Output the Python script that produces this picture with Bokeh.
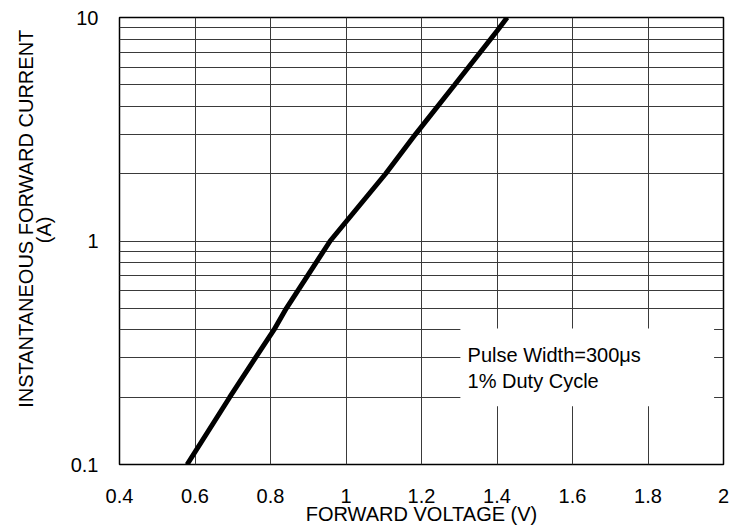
from bokeh.plotting import figure
from bokeh.models import FixedTicker, BoxAnnotation, Label
from bokeh.embed import file_html
from bokeh.resources import INLINE

# Data
voltage = [0.579, 0.692, 0.760, 0.809, 0.842, 0.958, 1.105, 1.184, 1.288, 1.400, 1.427]
current = [0.1, 0.2, 0.3, 0.4, 0.5, 1.0, 2.0, 3.0, 5.0, 8.7, 10.0]

x_ticks = [0.4, 0.6, 0.8, 1.0, 1.2, 1.4, 1.6, 1.8, 2.0]
x_tick_labels = ["0.4", "0.6", "0.8", "1", "1.2", "1.4", "1.6", "1.8", "2"]
y_ticks = [0.1, 1.0, 10.0]
y_tick_labels = ["0.1", "1", "10"]
y_minor_ticks = [0.2, 0.3, 0.4, 0.5, 0.6, 0.7, 0.8, 0.9, 2, 3, 4, 5, 6, 7, 8, 9]

y_title = "INSTANTANEOUS FORWARD CURRENT"
y_unit = "(A)"
note_lines = ["Pulse Width=300\u03bcs", "1% Duty Cycle"]

FONT = "Liberation Sans"
FS = "20px"
NB = "\u00a0"

p = figure(frame_width=604, frame_height=447, x_range=(0.4, 2.0), y_range=(0.1, 10),
           y_axis_type="log", output_backend="svg", toolbar_location=None,
           min_border_left=119, min_border_right=14, min_border_top=17,
           min_border_bottom=62)

p.outline_line_color = "black"
p.outline_line_width = 1.5
p.background_fill_color = "white"
p.border_fill_color = "white"

# x axis
p.xaxis.ticker = FixedTicker(ticks=x_ticks)
p.xaxis.major_label_overrides = {t: l for t, l in zip(x_ticks, x_tick_labels)}
p.xaxis.axis_label = "FORWARD VOLTAGE (V)"
# y axis
p.yaxis.ticker = FixedTicker(ticks=y_ticks, minor_ticks=y_minor_ticks)
p.yaxis.major_label_overrides = {t: l for t, l in zip(y_ticks, y_tick_labels)}
p.yaxis.axis_label = NB * 8 + y_title + "\n" + NB * 4 + y_unit

for ax in (p.xaxis[0], p.yaxis[0]):
    ax.axis_line_color = None
    ax.major_tick_line_color = None
    ax.minor_tick_line_color = None
    ax.major_tick_out = 0
    ax.minor_tick_out = 0
    ax.major_label_text_font = FONT
    ax.major_label_text_font_size = FS
    ax.major_label_text_color = "black"
    ax.axis_label_text_font = FONT
    ax.axis_label_text_font_size = FS
    ax.axis_label_text_font_style = "normal"
    ax.axis_label_text_color = "black"

p.yaxis.axis_label_text_line_height = 0.82

p.xaxis.major_label_standoff = 24
p.xaxis.axis_label_standoff = -3
p.yaxis.major_label_standoff = 21
p.yaxis.axis_label_standoff = 13

# grids
p.xgrid.grid_line_color = "#3a3a3a"
p.xgrid.grid_line_width = 1
p.ygrid.grid_line_color = "#3a3a3a"
p.ygrid.grid_line_width = 1
p.ygrid.minor_grid_line_color = "#3a3a3a"
p.ygrid.minor_grid_line_width = 1

# curve
p.line(voltage, current, line_color="black", line_width=5)

# annotation box
p.add_layout(BoxAnnotation(left=1.303, right=1.975, bottom=0.182, top=0.406,
                           fill_color="white", fill_alpha=1.0, line_color=None,
                           level="overlay"))
note_y = [0.3075, 0.236]
for txt, yy in zip(note_lines, note_y):
    p.add_layout(Label(x=1.322, y=yy, text=txt, text_font=FONT, text_font_size=FS,
                       text_color="black", text_baseline="alphabetic", level="overlay"))

open("out.html", "w").write(file_html(p, INLINE))
